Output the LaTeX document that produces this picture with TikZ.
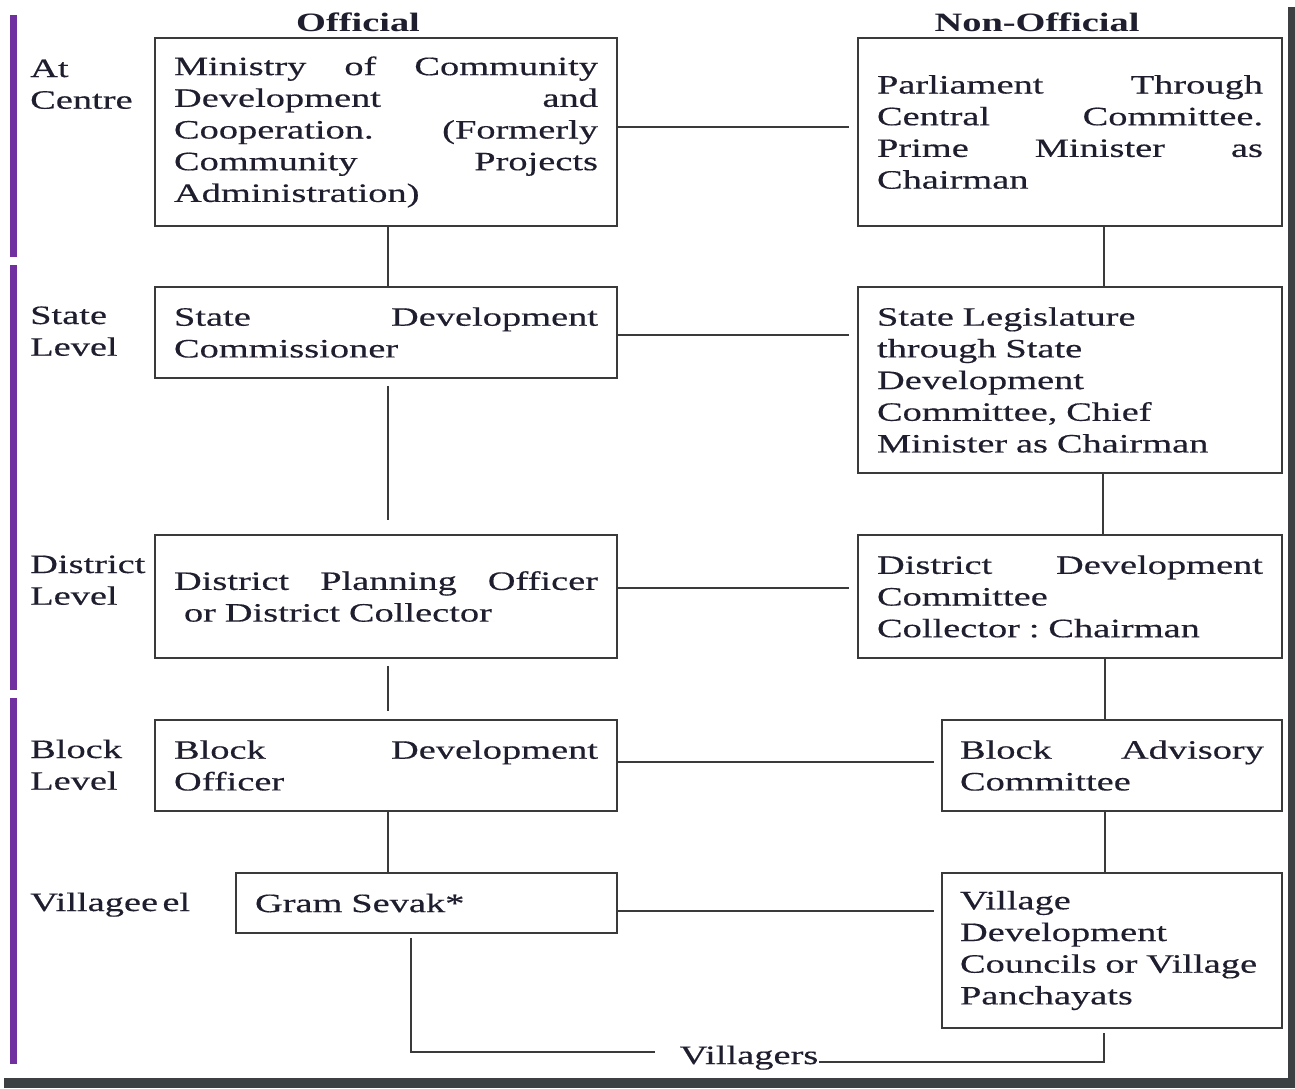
\documentclass[tikz,border=0pt]{standalone}
\usepackage{fontspec}
\setmainfont{Liberation Serif}[FakeStretch=1.45, UprightFeatures={FakeBold=0.4}]
\definecolor{barpurple}{HTML}{7030A0}
\definecolor{framegrey}{HTML}{3C4043}
\definecolor{ink}{HTML}{1E1E2E}
\definecolor{edgegrey}{HTML}{3A3A3A}
\newcommand\jl[1]{\leavevmode\hbox to\hsize{#1}}
\frenchspacing
\begin{document}
\begin{tikzpicture}[x=1pt,y=-1pt,
  every node/.style={font=\fontsize{26.5}{31.7}\selectfont, text=ink},
  box/.style={draw=edgegrey, line width=1.8pt, rectangle, inner xsep=19pt, inner ysep=0pt, text width=#1 pt, align=left},
  lbl/.style={anchor=base west, inner sep=0pt, text width=160pt, align=left},
  head/.style={anchor=base, inner sep=0pt, font=\fontsize{26.5}{31.7}\selectfont\bfseries},
  conn/.style={draw=edgegrey, line width=1.8pt}
]
\fill[white] (0,0) rectangle (1295,1088);
\useasboundingbox (0,0) rectangle (1295,1088);
% side bars and frame
\fill[barpurple] (10,15) rectangle (17,257);
\fill[barpurple] (10,265) rectangle (17,690);
\fill[barpurple] (10,698) rectangle (17,1064);
\fill[framegrey] (1288,7) rectangle (1295,1088);
\fill[framegrey] (4,1078) rectangle (1295,1088);

% headings
\node[head] (hoff) at (358,31) {Official};
\node[head] (hnon) at (1037,31) {Non-Official};

% level labels
\node[lbl] (l1) at (30,77) {At\\Centre};
\node[lbl] (l2) at (30,324) {State\\Level};
\node[lbl] (l3) at (30,573) {District\\Level};
\node[lbl] (l4) at (30,758) {Block\\Level};
\node[lbl] (l5) at (30,911) {Villagee\,el};

% official column
\node[box=424, minimum height=188pt] (b1) at (386,132)
  {\jl{Ministry\hfill of\hfill Community}\\\jl{Development\hfill and}\\\jl{Cooperation.\hfill (Formerly}\\\jl{Community\hfill Projects}\\Administration)};
\node[box=424, minimum height=91pt] (b2) at (386,332.5)
  {\jl{State\hfill Development}\\Commissioner};
\node[box=424, minimum height=123pt] (b3) at (386,596.5)
  {\jl{District\hfill Planning\hfill Officer}\\\hspace*{10pt}or District Collector};
\node[box=424, minimum height=91pt] (b4) at (386,765.5)
  {\jl{Block\hfill Development}\\Officer};
\node[box=343, minimum height=60pt] (b5) at (426.5,903)
  {Gram Sevak*};

% non-official column
\node[box=386, minimum height=188pt] (n1) at (1070,132)
  {\jl{Parliament\hfill Through}\\\jl{Central\hfill Committee.}\\\jl{Prime\hfill Minister\hfill as}\\Chairman};
\node[box=386, minimum height=186pt] (n2) at (1070,380)
  {State Legislature\\through State\\Development\\Committee, Chief\\Minister as Chairman};
\node[box=386, minimum height=123pt] (n3) at (1070,596.5)
  {\jl{District\hfill Development}\\Committee\\Collector : Chairman};
\node[box=304, minimum height=91pt, inner xsep=18pt] (n4) at (1112,765.5)
  {\jl{Block\hfill Advisory}\\Committee};
\node[box=304, minimum height=155pt, inner xsep=18pt] (n5) at (1112,950.5)
  {Village\\Development\\Councils or Village\\Panchayats};

\node[anchor=base, inner sep=1pt] (vill) at (749,1064) {Villagers};
\coordinate (vl) at ([xshift=-24pt]vill.west);

% horizontal links
\draw[conn, shorten >=8pt] (b1.east |- 0,127) -- (n1.west |- 0,127);
\draw[conn, shorten >=8pt] (b2.east |- 0,335) -- (n2.west |- 0,335);
\draw[conn, shorten >=8pt] (b3.east |- 0,588) -- (n3.west |- 0,588);
\draw[conn, shorten >=7pt] (b4.east |- 0,762) -- (n4.west |- 0,762);
\draw[conn, shorten >=7pt] (b5.east |- 0,911) -- (n5.west |- 0,911);

% vertical links
\draw[conn] (388,0 |- b1.south) -- (388,0 |- b2.north);
\draw[conn, shorten <=7pt, shorten >=14pt] (388,0 |- b2.south) -- (388,0 |- b3.north);
\draw[conn, shorten <=7pt, shorten >=8pt] (388,0 |- b3.south) -- (388,0 |- b4.north);
\draw[conn] (388,0 |- b4.south) -- (388,0 |- b5.north);
\draw[conn] (1104,0 |- n1.south) -- (1104,0 |- n2.north);
\draw[conn] (1103,0 |- n2.south) -- (1103,0 |- n3.north);
\draw[conn] (1105,0 |- n3.south) -- (1105,0 |- n4.north);
\draw[conn] (1105,0 |- n4.south) -- (1105,0 |- n5.north);

% villagers
\draw[conn, shorten <=4pt] (411,0 |- b5.south) -- (411,1052) -- (vl |- 0,1052);
\draw[conn, shorten >=4pt] (vill.east |- 0,1062) -- (1104,1062) -- (1104,0 |- n5.south);
\end{tikzpicture}
\end{document}
